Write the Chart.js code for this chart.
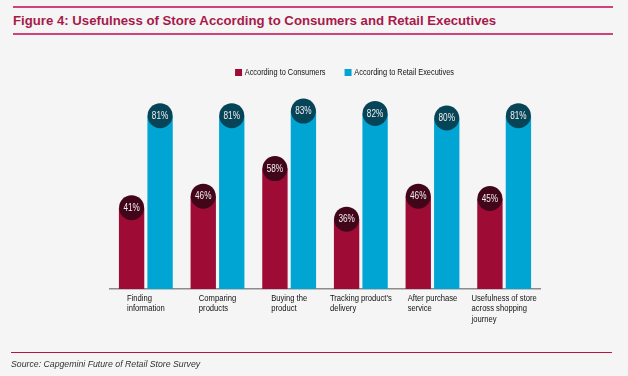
<!DOCTYPE html>
<html>
<head>
<meta charset="utf-8">
<script src="https://cdn.jsdelivr.net/npm/chart.js@4.4.1/dist/chart.umd.min.js"></script>
<style>
  body { margin: 0; background: #f5f5f5; width: 628px; height: 376px; overflow: hidden; position: relative; }
  .title {
    position: absolute; left: 13px; top: 6px; width: 600px; height: 25px;
    border-top: 2px solid #d0437a; border-bottom: 2px solid #d0437a;
    font: bold 13.2px "Liberation Sans", Arial, sans-serif; line-height: 25px; color: #a8194a;
  }
  .rule { position: absolute; left: 11px; top: 351.5px; width: 601px; border-top: 1.5px solid #b3173f; }
  .source {
    position: absolute; left: 11px; top: 359px; line-height: 11px;
    transform: scaleX(0.95); transform-origin: 0 50%;
    font: italic 9.2px "Liberation Sans", Arial, sans-serif; color: #333; white-space: nowrap;
  }
  #chart { position: absolute; left: 0; top: 0; }
</style>
</head>
<body>
<div class="title">Figure 4: Usefulness of Store According to Consumers and Retail Executives</div>
<canvas id="chart" width="628" height="376"></canvas>
<div class="rule"></div>
<div class="source">Source: Capgemini Future of Retail Store Survey</div>
<script>
// categories (multi-line labels, left aligned under each group)
const categories = [
  ["Finding", "information"],
  ["Comparing", "products"],
  ["Buying the", "product"],
  ["Tracking product's", "delivery"],
  ["After purchase", "service"],
  ["Usefulness of store", "across shopping", "journey"]
]
const seriesNames = ["According to Consumers", "According to Retail Executives"]
const consumers = [41, 46, 58, 36, 46, 45]
const executives = [81, 81, 83, 82, 80, 81]

// 没有窄体字体，用水平压缩模拟 Helvetica Narrow
const FONT = '"Liberation Sans", Arial, sans-serif'
const SQUEEZE = 0.82

function narrowText(ctx, text, x, y) {
  ctx.save()
  ctx.translate(x, y)
  ctx.scale(SQUEEZE, 1)
  ctx.fillText(text, 0, 0)
  ctx.restore()
}

// 圆形数值标签
const bubbleLabels = {
  id: "bubbleLabels",
  afterDatasetsDraw(chart) {
    const ctx = chart.ctx
    chart.data.datasets.forEach((ds, di) => {
      const meta = chart.getDatasetMeta(di)
      meta.data.forEach((bar, i) => {
        ctx.save()
        ctx.beginPath()
        ctx.arc(bar.x, bar.y, 12.5, 0, Math.PI * 2)
        ctx.fillStyle = ds.bubbleColor
        ctx.fill()
        ctx.fillStyle = "#f4eeee"
        ctx.font = "10px " + FONT
        ctx.textAlign = "center"
        ctx.textBaseline = "middle"
        narrowText(ctx, ds.data[i] + "%", bar.x, bar.y + 0.5)
        ctx.restore()
      })
    })
  }
}

// x 轴标签：整体居中，行内左对齐
const categoryLabels = {
  id: "categoryLabels",
  afterDraw(chart) {
    const ctx = chart.ctx
    const x = chart.scales.x
    ctx.save()
    ctx.font = "9.3px " + FONT
    ctx.fillStyle = "#111"
    ctx.textAlign = "left"
    ctx.textBaseline = "alphabetic"
    categories.forEach((lines, i) => {
      const cx = x.getPixelForValue(i)
      const w = Math.max(...lines.map(l => ctx.measureText(l).width)) * SQUEEZE
      lines.forEach((l, j) => narrowText(ctx, l, cx - w / 2, x.bottom + 11.5 + j * 10.5))
    })
    ctx.restore()
  }
}

// 图例（自绘，窄体）
const narrowLegend = {
  id: "narrowLegend",
  afterDraw(chart) {
    const ctx = chart.ctx
    const box = 7, gap = 2.7, spacing = 19
    ctx.save()
    ctx.font = "9px " + FONT
    ctx.textBaseline = "middle"
    ctx.textAlign = "left"
    const items = chart.data.datasets.map(ds => ({
      text: ds.label, color: ds.backgroundColor,
      w: box + gap + ctx.measureText(ds.label).width * SQUEEZE
    }))
    const total = items.reduce((s, it) => s + it.w, 0) + spacing * (items.length - 1)
    const center = (chart.chartArea.left + chart.scales.y.right) / 2
    const cy = chart.chartArea.top - 23.5
    let x = center - total / 2
    items.forEach(it => {
      ctx.fillStyle = it.color
      ctx.fillRect(x, cy - box / 2, box, box)
      ctx.fillStyle = "#111"
      narrowText(ctx, it.text, x + box + gap, cy + 0.5)
      x += it.w + spacing
    })
    ctx.restore()
  }
}

const yMin = 5.65
const yMax = 89.56

new Chart(document.getElementById("chart"), {
  type: "bar",
  data: {
    labels: categories,
    datasets: [
      { label: seriesNames[0], data: consumers, backgroundColor: "#9e0b35", bubbleColor: "#41061a" },
      { label: seriesNames[1], data: executives, backgroundColor: "#00a5d4", bubbleColor: "#064558" }
    ]
  },
  options: {
    responsive: false,
    animation: false,
    categoryPercentage: 0.795,
    barPercentage: 0.89,
    layout: { padding: { left: 110, right: 49, top: 96, bottom: 87 } },
    plugins: {
      legend: { display: false },
      tooltip: { enabled: false }
    },
    scales: {
      x: {
        grid: { display: false, drawTicks: false },
        border: { display: true, color: "#8c8c8c", width: 1.5 },
        ticks: { display: false }
      },
      y: {
        position: "right",
        min: yMin,
        max: yMax,
        grid: { display: false, drawTicks: false },
        border: { display: false },
        ticks: { display: false },
        afterFit: (s) => { s.width = 39 }
      }
    }
  },
  plugins: [bubbleLabels, categoryLabels, narrowLegend]
})
</script>
</body>
</html>
